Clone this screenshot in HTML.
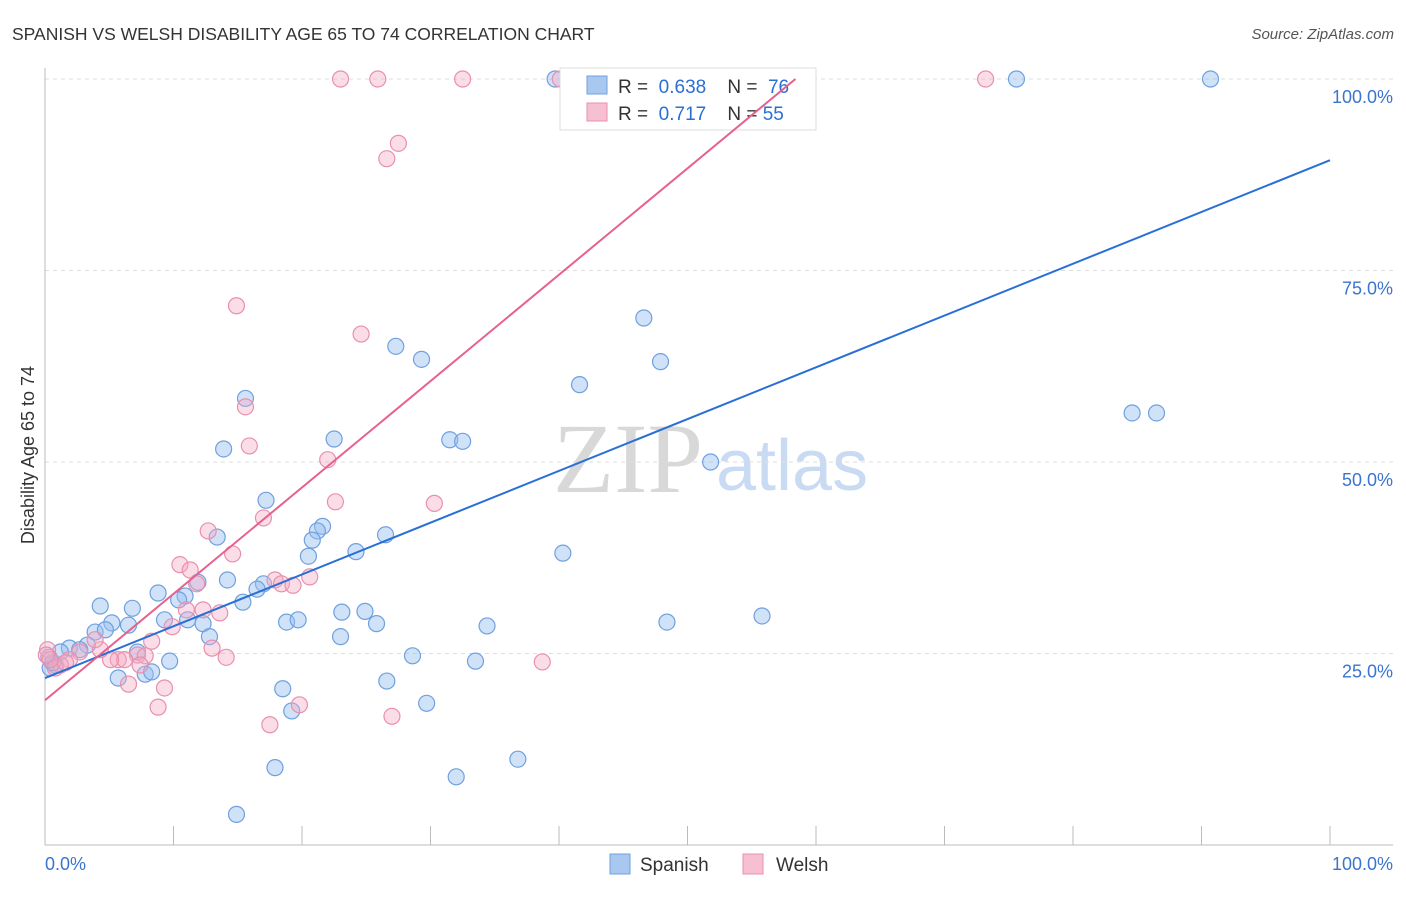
<!DOCTYPE html>
<html><head><meta charset="utf-8"><style>
body{margin:0;background:#fff;font-family:"Liberation Sans",sans-serif;}
svg text{font-family:"Liberation Sans",sans-serif;}
</style></head><body>
<svg id="chart" width="1406" height="892">
<text x="12" y="40" font-size="17.5" fill="#333">SPANISH VS WELSH DISABILITY AGE 65 TO 74 CORRELATION CHART</text>
<text x="1394" y="39" font-size="15" fill="#555" text-anchor="end" font-style="italic">Source: ZipAtlas.com</text>
<text x="553" y="492" font-size="100" fill="#d8d8d8" style="font-family:'Liberation Serif',serif">ZIP</text>
<text x="716" y="490" font-size="72" fill="#c9dbf2">atlas</text>
<g id="grid"></g>
<g id="axes"></g>
<g id="pts"></g>
<g>
<rect x="560" y="68" width="256" height="62" fill="#fff" stroke="#ddd"/>
<rect x="587" y="76" width="20" height="18" fill="#a9c8f0" stroke="#6fa0e0"/>
<rect x="587" y="103" width="20" height="18" fill="#f7c0d2" stroke="#e890ad"/>
<text x="618" y="93" font-size="19" fill="#333" xml:space="preserve">R =  <tspan fill="#2a6fd6">0.638</tspan>    N =  <tspan fill="#2a6fd6">76</tspan></text>
<text x="618" y="120" font-size="19" fill="#333" xml:space="preserve">R =  <tspan fill="#2a6fd6">0.717</tspan>    N = <tspan fill="#2a6fd6">55</tspan></text>
</g>
<g id="lines"></g>
<text transform="translate(34,455) rotate(-90)" font-size="18" fill="#333" text-anchor="middle">Disability Age 65 to 74</text>
<text x="45" y="870" font-size="18" fill="#3a74d0">0.0%</text>
<text x="1393" y="870" font-size="18" fill="#3a74d0" text-anchor="end">100.0%</text>
<g>
<rect x="610" y="854" width="20" height="20" fill="#a9c8f0" stroke="#6fa0e0"/>
<text x="640" y="871" font-size="19" fill="#333">Spanish</text>
<rect x="743" y="854" width="20" height="20" fill="#f7c0d2" stroke="#e890ad"/>
<text x="776" y="871" font-size="19" fill="#333">Welsh</text>
</g>
</svg>
<script>
const yTicks=[25,50,75,100];
const yTickLabels=["25.0%","50.0%","75.0%","100.0%"];
const xTicks=[10,20,30,40,50,60,70,80,90,100];
const spanishX=[39.7,75.6,90.7,52.3,46.6,47.9,27.3,29.3,41.6,15.6,13.9,22.5,31.5,32.5,51.8,84.6,86.5,17.2,13.4,21.6,21.2,20.8,20.5,24.2,26.5,40.3,17.0,16.5,14.2,15.4,11.9,10.9,10.4,8.8,6.8,4.3,9.3,11.1,12.3,12.8,6.5,5.2,3.9,4.7,3.3,1.9,2.7,1.2,0.8,0.4,7.2,9.7,7.8,8.3,5.7,18.8,19.7,23.1,24.9,25.8,23.0,34.4,33.5,28.6,26.6,29.7,18.5,19.2,48.4,55.8,36.8,32.0,17.9,14.9,0.3,0.6];
const spanishY=[100,100,100,100,68.8,63.1,65.1,63.4,60.1,58.3,51.7,53.0,52.9,52.7,50.0,56.4,56.4,45.0,40.2,41.6,41.0,39.8,37.7,38.3,40.5,38.1,34.1,33.4,34.6,31.7,34.3,32.5,32.0,32.9,30.9,31.2,29.4,29.4,28.9,27.2,28.7,29.0,27.8,28.1,26.1,25.7,25.5,25.2,23.5,23.1,25.2,24.0,22.3,22.6,21.8,29.1,29.4,30.4,30.5,28.9,27.2,28.6,24.0,24.7,21.4,18.5,20.4,17.5,29.1,29.9,11.2,8.9,10.1,4.0,24.5,23.8];
const welshX=[23.0,25.9,32.5,73.2,40.1,54.2,27.5,26.6,14.9,24.6,15.6,15.9,22.0,22.6,30.3,17.0,12.7,14.6,10.5,11.3,11.8,17.9,18.4,19.3,20.6,11.0,12.3,13.6,9.9,8.3,13.0,14.1,7.2,7.8,5.7,6.2,5.1,4.3,3.9,2.7,1.9,1.2,0.8,0.2,7.4,9.3,6.5,8.8,17.5,19.8,27.0,38.7,0.4,1.6,0.1];
const welshY=[100,100,100,100,100,100,91.6,89.6,70.4,66.7,57.2,52.1,50.3,44.8,44.6,42.7,41.0,38.0,36.6,35.9,34.1,34.6,34.1,33.9,35.0,30.7,30.7,30.3,28.5,26.6,25.7,24.5,24.8,24.7,24.2,24.2,24.2,25.5,26.8,25.2,24.2,23.5,23.1,25.5,23.5,20.5,21.0,18.0,15.7,18.3,16.8,23.9,24.2,23.8,24.8];
const spanishLine=[21.8,89.4];
const welshLine=[18.9,58.4]; // y at x=0, x where y=100
const X=v=>45+v*12.85, Y=v=>845-v*7.66;
const NS="http://www.w3.org/2000/svg";
function mk(tag,attrs,parent){const e=document.createElementNS(NS,tag);for(const k in attrs)e.setAttribute(k,attrs[k]);document.getElementById(parent).appendChild(e);return e;}
yTicks.forEach((t,i)=>{
 const l=mk('line',{x1:45,x2:1393,y1:Y(t),y2:Y(t),stroke:'#ddd','stroke-dasharray':'4,4'},'grid');
 
 
 const tx=mk('text',{x:1393,y:Y(t)+24,'font-size':18,fill:'#3a74d0','text-anchor':'end'},'grid');
 tx.textContent=yTickLabels[i];
 
 
});
const ax=mk('line',{x1:45,x2:1393,y1:845,y2:845,stroke:'#bbb'},'axes');


const ay=mk('line',{x1:45,x2:45,y1:68,y2:845,stroke:'#bbb'},'axes');


xTicks.forEach(t=>{const l=mk('line',{x1:X(t),x2:X(t),y1:826,y2:845,stroke:'#bbb'},'axes');
 
 });
spanishX.forEach((v,i)=>{const c=mk('circle',{cx:X(v),cy:Y(spanishY[i]),r:8,fill:'rgba(150,190,240,0.45)',stroke:'#6fa0e0','stroke-width':1.2},'pts');
 
 });
welshX.forEach((v,i)=>{const c=mk('circle',{cx:X(v),cy:Y(welshY[i]),r:8,fill:'rgba(245,170,195,0.4)',stroke:'#e890ad','stroke-width':1.2},'pts');
 
 });
const bl=mk('line',{x1:X(0),y1:Y(spanishLine[0]),x2:X(100),y2:Y(spanishLine[1]),stroke:'#2a6fd6','stroke-width':2},'lines');


const pl=mk('line',{x1:X(0),y1:Y(welshLine[0]),x2:X(welshLine[1]),y2:Y(100),stroke:'#e8608c','stroke-width':2},'lines');


</script>
</body></html>
